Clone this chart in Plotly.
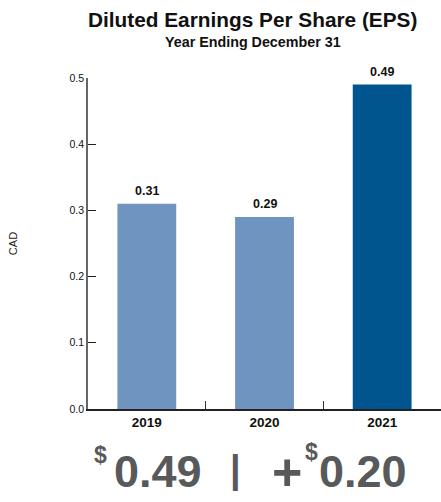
import plotly.graph_objects as go

years = ["2019", "2020", "2021"]
eps = [0.31, 0.29, 0.49]
labels = ["0.31", "0.29", "0.49"]
colors = ["#6F94C0", "#6F94C0", "#00558F"]
yticks = [0.0, 0.1, 0.2, 0.3, 0.4, 0.5]
ytick_text = ["0.0", "0.1", "0.2", "0.3", "0.4", "0.5"]
headline_value = "0.49"
headline_change = "0.20"

FONT = "Liberation Sans, Arial, sans-serif"
W, H = 441, 502
L, R, T, B = 88, 0, 78, 93
PW, PH = W - L - R, H - T - B


def px(x, y):
    return (x - L) / PW, (H - B - y) / PH


fig = go.Figure()
fig.add_trace(go.Bar(
    x=years, y=eps, marker=dict(color=colors, line=dict(width=0)),
    hoverinfo="skip",
))

annotations = []
for i, (v, lab) in enumerate(zip(eps, labels)):
    annotations.append(dict(
        x=i, y=v, xref="x", yref="y", text=f"<b>{lab}</b>", showarrow=False,
        xanchor="center", yanchor="bottom", yshift=4,
        font=dict(family=FONT, size=12.5, color="#111111"),
    ))


def pa(text, x, y, size, color="#111111", xanchor="center"):
    ax, ay = px(x, y)
    annotations.append(dict(
        text=text, x=ax, y=ay, xref="paper", yref="paper", showarrow=False,
        xanchor=xanchor, yanchor="middle",
        font=dict(family=FONT, size=size, color=color),
    ))


pa("<b>Diluted Earnings Per Share (EPS)</b>", 252, 19, 20.8)
pa("<b>Year Ending December 31</b>", 253, 42, 14.3)

GRAY = "#58595B"
pa("<b>$</b>", 100, 455, 23, GRAY)
pa(f"<b>{headline_value}</b>", 158, 471, 45, GRAY)
pa("<b>|</b>", 235, 470, 38, GRAY)
pa("<b>+</b>", 287, 472, 52, GRAY)
pa("<b>$</b>", 311, 452, 23, GRAY)
pa(f"<b>{headline_change}</b>", 363, 471, 45, GRAY)

fig.update_layout(
    width=W, height=H,
    margin=dict(l=L, r=R, t=T, b=B),
    paper_bgcolor="white", plot_bgcolor="white",
    bargap=0.5, showlegend=False,
    xaxis=dict(
        type="category", showgrid=False, showline=True, linecolor="#222222", linewidth=1.5,
        ticks="inside", tickson="boundaries", ticklen=8, tickcolor="#333333",
        tickfont=dict(family=FONT, size=13.5, color="#111111", weight="bold"),
        range=[-0.5, 2.5],
    ),
    yaxis=dict(
        range=[0, 0.5], showgrid=False, zeroline=False, showline=True,
        linecolor="#666666", linewidth=1.5,
        ticks="inside", ticklen=8, tickcolor="#222222",
        tickvals=yticks, ticktext=ytick_text,
        tickfont=dict(family=FONT, size=10.5, color="#111111"),
        title=dict(text="CAD", font=dict(family=FONT, size=11, color="#222222"), standoff=50),
    ),
    annotations=annotations,
)

fig.write_html("out.html")
